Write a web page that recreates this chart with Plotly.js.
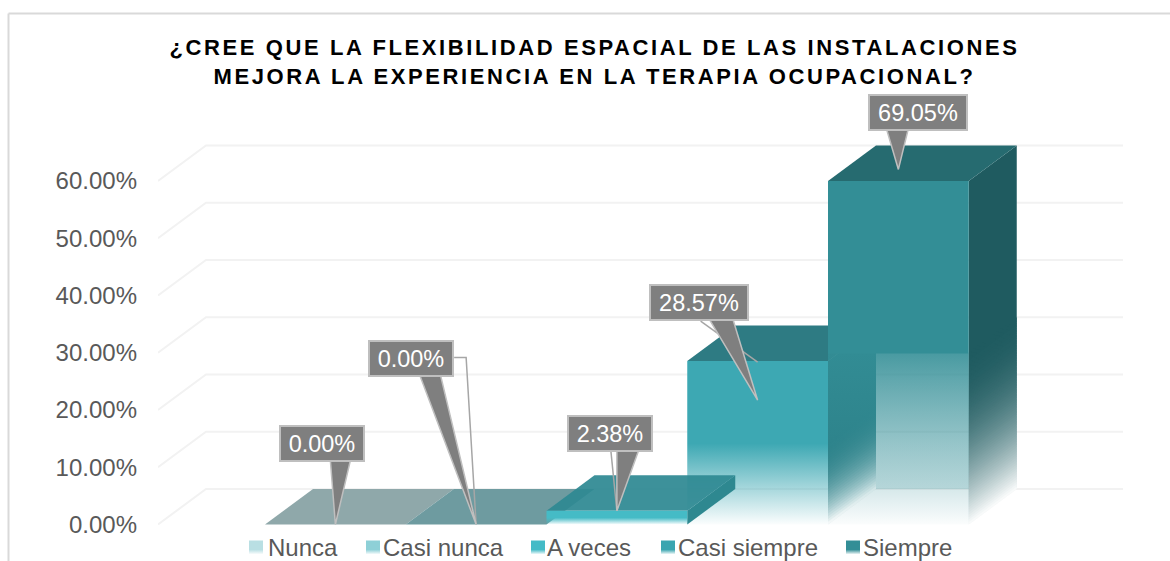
<!DOCTYPE html>
<html>
<head>
<meta charset="utf-8">
<script src="https://cdn.plot.ly/plotly-3.0.1.min.js"></script>
<style>
  html, body { margin: 0; padding: 0; background: #fff; }
  #chart { width: 1170px; height: 561px; }
  /* plotly has no letter spacing option for titles */
  .gtitle { letter-spacing: 2.6px; }
</style>
</head>
<body>
<div id="chart"></div>
<script>
const categories = ["Nunca", "Casi nunca", "A veces", "Casi siempre", "Siempre"];
const values = [0, 0, 2.38, 28.57, 69.05];
const labels = ["0.00%", "0.00%", "2.38%", "28.57%", "69.05%"];
const tickVals = [0, 10, 20, 30, 40, 50, 60];
const tickText = ["0.00%", "10.00%", "20.00%", "30.00%", "40.00%", "50.00%", "60.00%"];

// colours per category
const frontColors = ["#b9dfe3", "#8ed0d7", "#45bbc6", "#3da8b3", "#338e96"];
const topColors = ["#8fa8aa", "#6e9ba0", "rgba(46,137,146,0.93)", "#2e7b83", "#266b70"];
const sideColors = [null, null, "#2e8890", "#2a7c84", "#1f5b60"];
const swatchColors = ["#b9dfe3", "#8ed0d7", "#44bbc7", "#3aa5b0", "#338e96"];

// callouts: tip value, box centre and wedge base relative to the tip (px)
const tipValues = [0, 0, 2.38, 21.7, 62];
const boxDx = [-13, -65.5, -6.5, -58.5, 19.5];
const boxDy = [-81.5, -166.5, -77, -98, -57];
const baseLeft = [-5, -57, 0, -49, -12];
const baseRight = [15, -36, 22, -25, 10];
const baseDy = [-64, -151, -61, -82, -41];
const leaders = [
  null,
  [[-22, -167], [-10, -167], [0, 0]],
  [[-6, -60], [0, 0]],
  [[-57, -79], [0, -38]],
  null
];

// legend placement (px from left of the page)
const swatchLeft = [249, 366, 531, 661, 846];
const legendTextLeft = [268, 383, 547, 678, 863];
const legendMidPx = 547.5, swatchSize = 14;

// axis limits of the chart and plot geometry
const axisMax = 60;
const fadeShare = 0.5;
const margin = { l: 158, r: 47, t: 80, b: 0 };
const pxPerCat = 140.75, pxPerPct = 5.727;
const firstCatPx = 335.375, zeroPx = 524.5;
const depthX = 48 / pxPerCat, depthY = 35.5 / pxPerPct;
const xRange = [(margin.l - firstCatPx) / pxPerCat, (1170 - margin.r - firstCatPx) / pxPerCat];
const yRange = [(zeroPx - 561) / pxPerPct, (zeroPx - margin.t) / pxPerPct];
const plotW = 1170 - margin.l - margin.r, plotH = 561 - margin.t - margin.b;

function pt(c, v, d) { return [c + d * depthX, v + d * depthY]; }
function pxX(px) { return (px - firstCatPx) / pxPerCat; }
function pxY(px) { return (zeroPx - px) / pxPerPct; }
function rgba(hex, a) {
  const n = parseInt(hex.slice(1), 16);
  return "rgba(" + (n >> 16) + "," + ((n >> 8) & 255) + "," + (n & 255) + "," + a + ")";
}
function towardWhite(hex, t) {
  const n = parseInt(hex.slice(1), 16);
  const f = (ch) => Math.round(ch + (255 - ch) * t);
  return "rgb(" + f(n >> 16) + "," + f((n >> 8) & 255) + "," + f(n & 255) + ")";
}

const traces = [];

function poly(points, color, gradient) {
  const t = {
    type: "scatter", mode: "lines", fill: "toself",
    x: points.map(p => p[0]).concat(points[0][0]),
    y: points.map(p => p[1]).concat(points[0][1]),
    line: { width: 0 }, showlegend: false, hoverinfo: "skip"
  };
  if (gradient) t.fillgradient = gradient; else t.fillcolor = color;
  traces.push(t);
}

function sideFace(i, top, steps) {
  const c = i + 0.5;
  const fadeTop = steps ? top * fadeShare : 0;
  const step = steps ? fadeTop / steps : 0;
  poly([pt(c, fadeTop - step, 0), pt(c, top, 0), pt(c, top, 1), pt(c, fadeTop - step, 1)], sideColors[i]);
  // skewed fade, plotly gradients are only vertical so it goes in bands.
  // each band only overlaps the next one, so no dark fringe stays on the lower edge
  for (let k = 1; k <= steps; k++) {
    const vUp = fadeTop - (k - 1) * step;
    const vLow = Math.max(0, vUp - 2 * step);
    poly([pt(c, vLow, 0), pt(c, vUp, 0), pt(c, vUp, 1), pt(c, vLow, 1)],
      towardWhite(sideColors[i], Math.pow(k / steps, 2) * 0.97));
  }
}

function frontFace(i, top, kneeAlpha) {
  const col = frontColors[i];
  poly([pt(i - 0.5, 0, 0), pt(i - 0.5, top, 0), pt(i + 0.5, top, 0), pt(i + 0.5, 0, 0)], null, {
    type: "vertical", start: 0, stop: top,
    colorscale: [[0, rgba(col, 0.02)], [fadeShare - 0.005, rgba(col, kneeAlpha)], [fadeShare, rgba(col, 1)], [1, rgba(col, 1)]]
  });
}

function topFace(i, top) {
  poly([pt(i - 0.5, top, 0), pt(i + 0.5, top, 0), pt(i + 0.5, top, 1), pt(i - 0.5, top, 1)], topColors[i]);
}

// grid, left wall + back wall
tickVals.forEach(v => {
  const a = pt(xRange[0], v, 0), b = pt(xRange[0], v, 1), e = [xRange[1], v + depthY];
  traces.push({
    type: "scatter", mode: "lines", x: [a[0], b[0], e[0]], y: [a[1], b[1], e[1]],
    line: { color: "#f2f2f2", width: 2 }, showlegend: false, hoverinfo: "skip"
  });
});

const tops = values.map(v => Math.min(v, axisMax));

// draw order as in the original, a veces sits over casi siempre
topFace(0, tops[0]);
topFace(1, tops[1]);

sideFace(3, tops[3], 30);
topFace(3, tops[3]);
frontFace(3, tops[3], 1);

sideFace(2, tops[2], 0);
topFace(2, tops[2]);
frontFace(2, tops[2], 1);

// tallest bar: faint back face seen through the fading front
poly([pt(3.5, 0, 1), pt(3.5, tops[4] * fadeShare, 1), pt(4.5, tops[4] * fadeShare, 1), pt(4.5, 0, 1)], null, {
  type: "vertical", start: depthY, stop: depthY + tops[4] * fadeShare,
  colorscale: [[0, rgba(frontColors[4], 0.2)], [1, rgba(frontColors[4], 0.02)]]
});
sideFace(4, tops[4], 70);
topFace(4, tops[4]);
frontFace(4, tops[4], 0.88);

// callout wedges and leader lines
const annotations = [];
categories.forEach((cat, i) => {
  const tx = i, tv = tipValues[i];
  const toData = (dx, dy) => [tx + dx / pxPerCat, tv - dy / pxPerPct];
  if (leaders[i]) {
    const pts = leaders[i].map(p => toData(p[0], p[1]));
    traces.push({
      type: "scatter", mode: "lines", x: pts.map(p => p[0]), y: pts.map(p => p[1]),
      line: { color: "#a6a6a6", width: 1.5 }, showlegend: false, hoverinfo: "skip"
    });
  }
  const wedge = [toData(baseLeft[i], baseDy[i]), toData(baseRight[i], baseDy[i]), toData(0, 0)];
  traces.push({
    type: "scatter", mode: "lines", fill: "toself", fillcolor: "#7f7f7f",
    x: wedge.map(p => p[0]).concat(wedge[0][0]), y: wedge.map(p => p[1]).concat(wedge[0][1]),
    line: { color: "#bfbfbf", width: 1.5 }, showlegend: false, hoverinfo: "skip"
  });
  annotations.push({
    xref: "x", yref: "y", x: tx, y: tv, xshift: boxDx[i], yshift: -boxDy[i],
    text: labels[i], showarrow: false, xanchor: "center", yanchor: "middle",
    width: labels[i].length > 5 ? 96 : 82, height: 33, borderpad: 0,
    bgcolor: "#7f7f7f", bordercolor: "#bfbfbf", borderwidth: 2,
    font: { family: "Liberation Sans", size: 23.5, color: "#ffffff" }
  });
});

// legend, drawn by hand to keep the tight swatch gap and the soft swatch fade
categories.forEach((cat, i) => {
  const x0 = pxX(swatchLeft[i]), x1 = pxX(swatchLeft[i] + swatchSize);
  const yTop = pxY(legendMidPx - swatchSize / 2), yBot = pxY(legendMidPx + swatchSize / 2);
  poly([[x0, yBot], [x0, yTop], [x1, yTop], [x1, yBot]], null, {
    type: "vertical", start: yBot, stop: yTop,
    colorscale: [[0, rgba(swatchColors[i], 0)], [0.35, rgba(swatchColors[i], 1)], [1, rgba(swatchColors[i], 1)]]
  });
  annotations.push({
    xref: "x", yref: "y", x: pxX(legendTextLeft[i]), y: pxY(legendMidPx),
    text: cat, showarrow: false, xanchor: "left", yanchor: "middle", borderpad: 0, borderwidth: 0,
    font: { family: "Liberation Sans", size: 24, color: "#595959" }
  });
});

const frameTop = (561 - 13.5 - margin.b) / plotH, frameLeft = (8.5 - margin.l) / plotW;
const layout = {
  width: 1170, height: 561, margin: margin,
  paper_bgcolor: "#ffffff", plot_bgcolor: "#ffffff",
  hovermode: false, showlegend: false,
  font: { family: "Liberation Sans", color: "#595959" },
  title: {
    text: "¿CREE QUE LA FLEXIBILIDAD ESPACIAL DE LAS INSTALACIONES<br>MEJORA LA EXPERIENCIA EN LA TERAPIA OCUPACIONAL?",
    x: (594.5 - margin.l) / plotW, xanchor: "center", xref: "paper", y: 1 - 55 / 561, yanchor: "top",
    font: { family: "Liberation Sans", size: 22, weight: 700, color: "#000000" }
  },
  xaxis: { range: xRange, visible: false, fixedrange: true },
  yaxis: {
    range: yRange, tickvals: tickVals, ticktext: tickText, ticks: "", showgrid: false,
    zeroline: false, showline: false, ticklabelstandoff: 20, fixedrange: true,
    tickfont: { size: 24, color: "#595959" }
  },
  shapes: [
    { type: "line", xref: "paper", yref: "paper", x0: frameLeft, x1: (1170 - margin.l) / plotW,
      y0: frameTop, y1: frameTop, line: { color: "#d9d9d9", width: 2 } },
    { type: "line", xref: "paper", yref: "paper", x0: frameLeft, x1: frameLeft,
      y0: 0, y1: frameTop, line: { color: "#d9d9d9", width: 2 } }
  ],
  annotations: annotations
};

Plotly.newPlot("chart", traces, layout, { displayModeBar: false, responsive: false });
</script>
</body>
</html>
